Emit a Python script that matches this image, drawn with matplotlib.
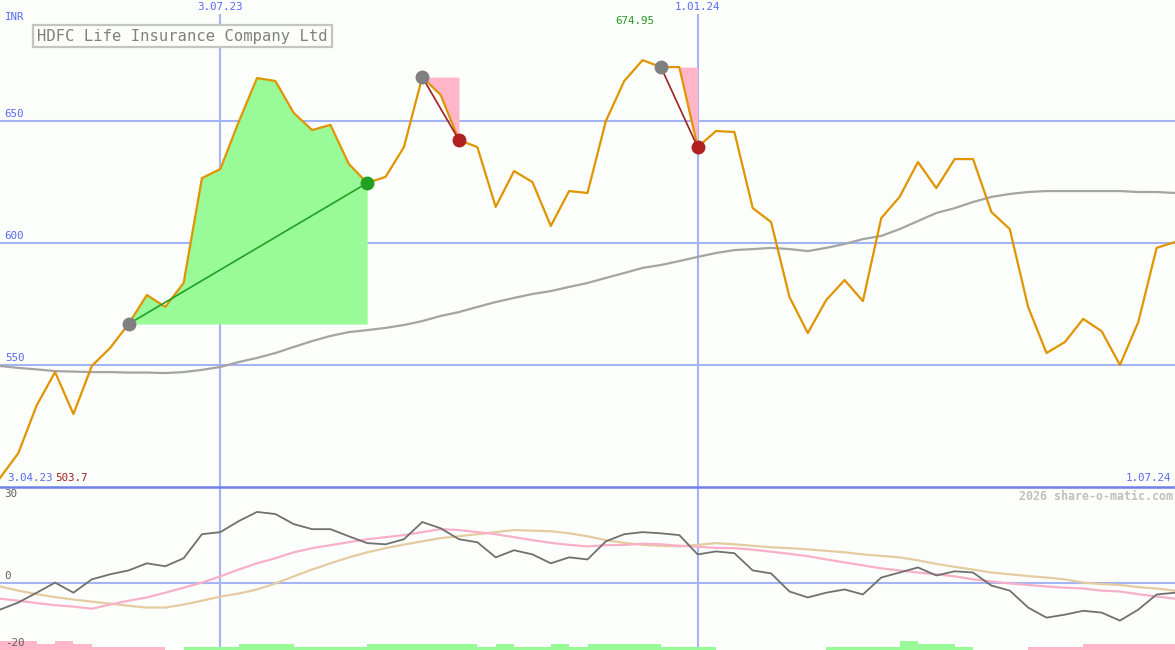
import matplotlib.pyplot as plt
from matplotlib.lines import Line2D

# weekly data, 3.04.23 .. 1.07.24
weeks = list(range(65))
price = [503.7, 513.9, 533.5, 547.1, 529.9, 549.6, 557.0, 566.8, 578.7, 573.8,
         583.6, 626.6, 630.3, 649.6, 667.6, 666.4, 653.3, 646.3, 648.4, 632.4,
         624.6, 627.1, 639.3, 668.0, 660.7, 642.2, 639.3, 614.8, 629.5, 625.0,
         607.0, 621.3, 620.5, 650.0, 666.4, 674.95, 672.1, 672.1, 639.3, 645.9,
         645.5, 614.3, 608.6, 577.9, 563.1, 576.6, 584.8, 576.2, 610.2, 618.9,
         633.2, 622.5, 634.4, 634.4, 612.7, 605.7, 573.8, 554.9, 559.4, 568.9,
         563.9, 550.0, 567.6, 598.0, 600.4]
ma_slow = [549.6, 548.8, 548.2, 547.5, 547.3, 547.1, 547.1, 546.9, 546.9, 546.7,
           547.1, 548.0, 549.2, 551.2, 552.9, 554.9, 557.4, 559.8, 561.9, 563.5,
           564.3, 565.2, 566.4, 568.0, 570.1, 571.7, 573.8, 575.8, 577.5, 579.1,
           580.3, 582.0, 583.6, 585.7, 587.7, 589.8, 591.0, 592.6, 594.3, 595.9,
           597.1, 597.5, 598.0, 597.5, 596.7, 598.0, 599.6, 601.6, 602.9, 605.7,
           609.0, 612.3, 614.3, 616.8, 618.9, 620.1, 620.9, 621.3, 621.3, 621.3,
           621.3, 621.3, 620.9, 620.9, 620.5]
osc = [-8.8, -6.4, -3.1, 0.3, -3.1, 1.4, 3.1, 4.4, 6.8, 5.8,
       8.5, 16.6, 17.3, 21.0, 24.1, 23.4, 20.0, 18.3, 18.3, 15.9,
       13.6, 13.2, 14.9, 20.7, 18.6, 14.9, 13.9, 8.8, 11.2, 9.8,
       6.8, 8.8, 8.1, 14.2, 16.6, 17.3, 16.9, 16.3, 9.8, 10.8,
       10.2, 4.4, 3.4, -2.7, -4.7, -3.1, -2.0, -3.7, 2.0, 3.7,
       5.4, 2.7, 4.1, 3.7, -0.7, -2.4, -8.1, -11.5, -10.5, -9.2,
       -9.8, -12.5, -8.8, -3.7, -3.1]
osc_fast = [-5.1, -5.8, -6.6, -7.3, -7.8, -8.5, -7.1, -5.8, -4.7, -3.1,
            -1.4, 0.3, 2.4, 4.7, 6.8, 8.5, 10.5, 11.9, 12.9, 13.9,
            14.9, 15.6, 16.3, 17.3, 18.3, 18.0, 17.3, 16.6, 15.6, 14.6,
            13.7, 13.0, 12.5, 12.9, 13.0, 13.4, 13.2, 12.7, 12.4, 12.0,
            11.9, 11.4, 10.7, 10.0, 9.2, 8.1, 7.1, 6.1, 5.1, 4.4,
            3.7, 3.1, 2.4, 1.4, 0.7, 0.0, -0.5, -1.0, -1.4, -1.7,
            -2.4, -2.7, -3.6, -4.4, -5.1]
osc_slow = [-1.0, -2.4, -3.6, -4.6, -5.4, -6.1, -6.8, -7.5, -8.1, -8.1,
            -7.1, -5.8, -4.4, -3.4, -2.0, 0.0, 2.4, 4.7, 6.8, 8.8,
            10.5, 11.9, 13.1, 14.2, 15.3, 15.9, 16.6, 17.3, 18.0, 17.8,
            17.6, 16.9, 15.9, 14.6, 13.7, 13.0, 12.7, 12.5, 13.0, 13.6,
            13.2, 12.7, 12.2, 11.9, 11.5, 11.0, 10.5, 9.8, 9.3, 8.8,
            7.8, 6.6, 5.6, 4.7, 3.7, 3.1, 2.5, 2.0, 1.4, 0.3,
            -0.2, -0.5, -1.2, -1.7, -2.4]
hist = [-3, -3, -2, -3, -2, -1, -1, -1, -1, 0,
        1, 1, 1, 2, 2, 2, 1, 1, 1, 1,
        2, 2, 2, 2, 2, 2, 1, 2, 1, 1,
        2, 1, 2, 2, 2, 2, 1, 1, 1, 0,
        0, 0, 0, 0, 0, 1, 1, 1, 1, 3,
        2, 2, 1, 0, 0, 0, -1, -1, -1, -2,
        -2, -2, -2, -2]

gain = (7, 20)
drops = [(23, 25), (36, 38)]
date_marks = {12: '3.07.23', 38: '1.01.24'}
price_levels = [550, 600, 650]
osc_levels = [30, 0, -20]

bg = '#fbfefa'
blue = '#5a6af0'
grid = '#a4b4f4'
mono = 'DejaVu Sans Mono'
fs = 7.8

fig = plt.figure(figsize=(11.75, 6.5), dpi=100)
fig.patch.set_facecolor(bg)
split = 1 - 487 / 650
ax = fig.add_axes([0, split, 1, 1 - split])
ax2 = fig.add_axes([0, 0, 1, split])
for a in (ax, ax2):
    a.set_axis_off()
    a.set_xlim(0, 64)
ax.set_ylim(500, 699.6)
ax2.set_ylim(-22.4, 32.5)
ytr = ax.get_yaxis_transform()

# top panel
for v in price_levels:
    ax.axhline(v, color=grid, lw=1.5, zorder=1)
    ax.text(0.004, v + 1.0, str(v), transform=ytr,
            color=blue, fontsize=fs, family=mono, va='bottom', ha='left')
for i, lab in date_marks.items():
    ax.axvline(i, ymax=0.969, color=grid, lw=1.5, zorder=1)
    ax.text(i, 698.8, lab, color=blue, fontsize=fs, family=mono, ha='center', va='top')

ax.plot(weeks, ma_slow, color='#a4a4a4', lw=1.6, zorder=3)

a0, a1 = gain
ax.fill_between(weeks[a0:a1 + 1], price[a0:a1 + 1], price[a0], color='#98fb98', lw=0, zorder=2)
for d0, d1 in drops:
    ax.fill_between(weeks[d0:d1 + 1], price[d0:d1 + 1], price[d0], color='#ffb6c9', lw=0, zorder=2)

ax.plot(weeks, price, color='#e09400', lw=1.6, zorder=4)

ax.plot([a0, a1], [price[a0], price[a1]], color='#22a022', lw=1.2, zorder=5)
ax.plot(a0, price[a0], 'o', color='#808080', ms=9, zorder=6)
ax.plot(a1, price[a1], 'o', color='#22a022', ms=9, zorder=6)
for d0, d1 in drops:
    ax.plot([d0, d1], [price[d0], price[d1]], color='#a02020', lw=1.2, zorder=5)
    ax.plot(d0, price[d0], 'o', color='#808080', ms=9, zorder=6)
    ax.plot(d1, price[d1], 'o', color='#b02020', ms=9, zorder=6)

imax = price.index(max(price))
ax.text(imax - 0.45, 691.0, f'{max(price):.2f}', color='#229922', fontsize=fs,
        family=mono, ha='center', va='center')
ax.text(0.004, 0.958, 'INR', transform=ax.transAxes, color=blue, fontsize=fs, family=mono)
ax.text(0.006, 503.7, '3.04.23', color=blue, fontsize=fs, family=mono, va='center',
        transform=ytr)
ax.text(0.047, 503.7, f'{price[0]:.1f}', color='#a02020', fontsize=fs, family=mono,
        va='center', transform=ytr)
ax.text(0.997, 503.5, '1.07.24', color=blue, fontsize=fs, family=mono, va='center',
        ha='right', transform=ytr)
ax.text(0.0315, 0.926, 'HDFC Life Insurance Company Ltd', transform=ax.transAxes,
        color='#808080', fontsize=11.2, family=mono, va='center', ha='left',
        bbox=dict(boxstyle='square,pad=0.25', fc=bg, ec='#c4c4c4', lw=1.6))

# lower panel
ax2.axhline(0, color=grid, lw=1.5, zorder=1)
for i in date_marks:
    ax2.axvline(i, color=grid, lw=1.5, zorder=1)
ax2.bar(weeks[:-1], [abs(h) * 1.0 for h in hist], width=1, align='edge', bottom=-22.4,
        color=['#98fb98' if h > 0 else '#ffb6c9' for h in hist], lw=0, zorder=2)
ax2.plot(weeks, osc_slow, color='#e4cca0', lw=1.6, zorder=3)
ax2.plot(weeks, osc_fast, color='#f8b0c8', lw=1.6, zorder=3)
ax2.plot(weeks, osc, color='#707070', lw=1.3, zorder=4)
for v in osc_levels:
    ax2.text(0.004, v + (1.0 if v == 0 else 0), str(v), transform=ax2.get_yaxis_transform(),
             color='#606060', fontsize=fs, family=mono,
             va='bottom' if v == 0 else 'center')
ax2.text(0.998, 0.94, '2026 share-o-matic.com', transform=ax2.transAxes, color='#c0c0c0',
         fontsize=8.4, family=mono, fontweight='bold', ha='right', va='center')

fig.add_artist(Line2D([0, 1], [split, split], transform=fig.transFigure, color='#7080e8', lw=1.8))

fig.savefig('out.png', dpi=100, facecolor=bg)
